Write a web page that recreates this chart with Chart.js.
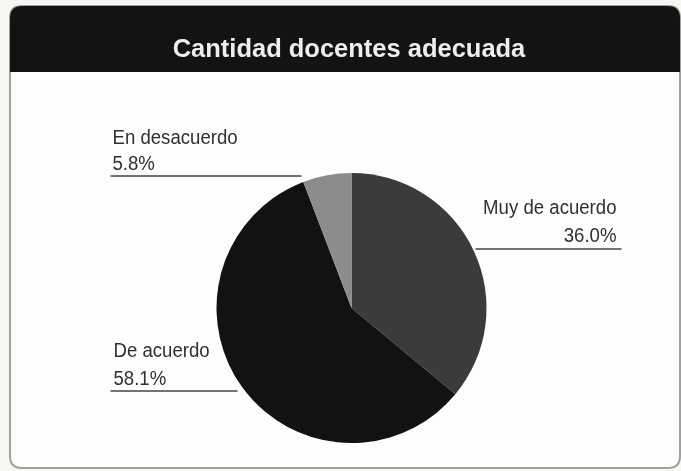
<!DOCTYPE html>
<html>
<head>
<meta charset="utf-8">
<script src="https://cdn.jsdelivr.net/npm/chart.js@4.4.1/dist/chart.umd.min.js"></script>
<style>
html,body{margin:0;padding:0;background:#f8f8f6;}
#wrap{width:681px;height:471px;position:relative;}
canvas{display:block;}
</style>
</head>
<body>
<div id="wrap"><canvas id="c" width="681" height="471"></canvas></div>
<script>
const title = "Cantidad docentes adecuada";
const categories = ["Muy de acuerdo", "De acuerdo", "En desacuerdo"];
const values = [36.0, 58.1, 5.8];
const valueLabels = ["36.0%", "58.1%", "5.8%"];
const colors = ["#3b3b3b", "#121212", "#8c8c8c"];

const FONT = "'Liberation Sans',Arial,sans-serif";

function condText(ctx, text, x, y, align, sx) {
  ctx.save();
  ctx.translate(x, y);
  ctx.scale(sx, 1);
  ctx.textAlign = align;
  ctx.fillText(text, 0, 0);
  ctx.restore();
}

const framePlugin = {
  id: 'frame',
  beforeDraw(chart) {
    const ctx = chart.ctx;
    ctx.save();
    ctx.fillStyle = '#f6f6f3';
    ctx.fillRect(0, 0, chart.width, chart.height);
    const x0 = 10, y0 = 6, x1 = 680, y1 = 468, r = 12;
    ctx.beginPath();
    ctx.moveTo(x0 + r, y0);
    ctx.lineTo(x1 - r, y0);
    ctx.quadraticCurveTo(x1, y0, x1, y0 + r);
    ctx.lineTo(x1, y1 - r);
    ctx.quadraticCurveTo(x1, y1, x1 - r, y1);
    ctx.lineTo(x0 + r, y1);
    ctx.quadraticCurveTo(x0, y1, x0, y1 - r);
    ctx.lineTo(x0, y0 + r);
    ctx.quadraticCurveTo(x0, y0, x0 + r, y0);
    ctx.closePath();
    ctx.fillStyle = '#fdfdfc';
    ctx.fill();
    ctx.strokeStyle = '#a0a0a0';
    ctx.lineWidth = 2;
    ctx.stroke();
    const hb = 72;
    ctx.beginPath();
    ctx.moveTo(x0 + r, y0);
    ctx.lineTo(x1 - r, y0);
    ctx.quadraticCurveTo(x1, y0, x1, y0 + r);
    ctx.lineTo(x1, hb);
    ctx.lineTo(x0, hb);
    ctx.lineTo(x0, y0 + r);
    ctx.quadraticCurveTo(x0, y0, x0 + r, y0);
    ctx.closePath();
    ctx.fillStyle = '#131313';
    ctx.fill();
    ctx.fillStyle = '#eeeeee';
    ctx.font = 'bold 26px ' + FONT;
    ctx.textBaseline = 'alphabetic';
    condText(ctx, title, 349, 57, 'center', 0.98);
    ctx.restore();
  },
  afterDraw(chart) {
    const ctx = chart.ctx;
    const meta = chart.getDatasetMeta(0);
    const a0 = meta.data[0];
    const cx = a0.x, cy = a0.y;
    const sx = 0.93;
    ctx.save();
    ctx.font = '20px ' + FONT;
    ctx.fillStyle = '#303030';
    ctx.strokeStyle = '#444444';
    ctx.lineWidth = 1.6;
    ctx.textBaseline = 'alphabetic';
    // Muy de acuerdo (right)
    condText(ctx, categories[0], cx + 265, cy - 94, 'right', sx);
    condText(ctx, valueLabels[0], cx + 265, cy - 66, 'right', sx);
    ctx.beginPath(); ctx.moveTo(cx + 124, cy - 59); ctx.lineTo(cx + 270, cy - 59); ctx.stroke();
    // De acuerdo (left)
    condText(ctx, categories[1], cx - 238, cy + 49, 'left', sx);
    condText(ctx, valueLabels[1], cx - 238, cy + 77, 'left', sx);
    ctx.beginPath(); ctx.moveTo(cx - 241, cy + 83); ctx.lineTo(cx - 114, cy + 83); ctx.stroke();
    // En desacuerdo (left top)
    condText(ctx, categories[2], cx - 239, cy - 164, 'left', sx);
    condText(ctx, valueLabels[2], cx - 239, cy - 138, 'left', sx);
    ctx.beginPath(); ctx.moveTo(cx - 241, cy - 132); ctx.lineTo(cx - 50, cy - 132); ctx.stroke();
    ctx.restore();
  }
};

new Chart(document.getElementById('c'), {
  type: 'pie',
  data: {
    labels: categories,
    datasets: [{
      data: values,
      backgroundColor: colors,
      borderWidth: 0
    }]
  },
  options: {
    responsive: false,
    animation: false,
    layout: { padding: { left: 216, right: 194, top: 173, bottom: 28 } },
    plugins: { legend: { display: false }, tooltip: { enabled: false }, title: { display: false } }
  },
  plugins: [framePlugin]
});
</script>
</body>
</html>
